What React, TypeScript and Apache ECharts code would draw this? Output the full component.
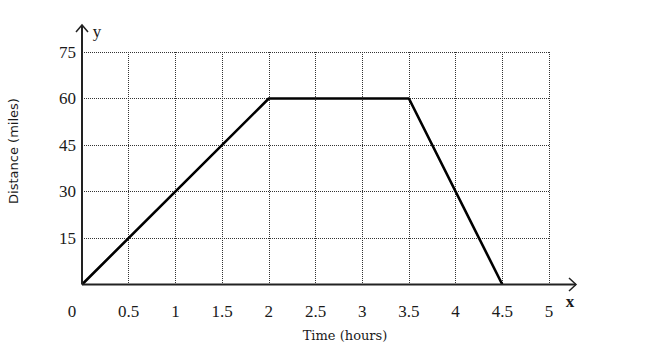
import React, { useEffect, useRef } from "react";
import * as echarts from "echarts";

const timeHours = [0, 2, 3.5, 4.5];
const distanceMiles = [0, 60, 60, 0];
const xTicks = [0, 0.5, 1, 1.5, 2, 2.5, 3, 3.5, 4, 4.5, 5];
const yTicks = [0, 15, 30, 45, 60, 75];

export default function App() {
  const ref = useRef<HTMLDivElement>(null);
  useEffect(() => {
    if (!ref.current) return;
    const chart = echarts.init(ref.current, null, { renderer: "svg" });
    const serif = "'Liberation Serif', serif";
    const option: any = {
      animation: false,
      backgroundColor: "#ffffff",
      grid: { left: 82, right: 101, top: 52, bottom: 68.5 },
      xAxis: {
        type: "value",
        min: xTicks[0],
        max: xTicks[xTicks.length - 1],
        interval: 0.5,
        axisLine: { show: false },
        axisTick: { show: false },
        axisLabel: {
          margin: 18,
          color: "#1a1a1a",
          fontFamily: serif,
          fontSize: 17,
          formatter: (v: number) => (v === 0 ? "{z|0}" : String(v)),
          rich: {
            z: { fontFamily: serif, fontSize: 17, color: "#1a1a1a", padding: [0, 20, 0, 0] },
          },
        },
        splitLine: {
          show: true,
          lineStyle: { color: "#333", width: 1, type: [1, 1] },
        },
      },
      yAxis: {
        type: "value",
        min: yTicks[0],
        max: yTicks[yTicks.length - 1],
        interval: 15,
        axisLine: { show: false },
        axisTick: { show: false },
        axisLabel: {
          margin: 6,
          color: "#1a1a1a",
          fontFamily: serif,
          fontSize: 17,
          padding: [7, 0, 0, 0],
          formatter: (v: number) => (v === 0 ? "" : String(v)),
        },
        splitLine: {
          show: true,
          lineStyle: { color: "#333", width: 1, type: [1, 1] },
        },
      },
      series: [
        {
          type: "line",
          data: timeHours.map((t, i) => [t, distanceMiles[i]]),
          showSymbol: false,
          symbol: "none",
          lineStyle: { color: "#000", width: 2.6 },
          z: 5,
        },
      ],
    };
    chart.setOption(option);
    const o = chart.convertToPixel({ gridIndex: 0 }, [0, 0]) as number[];
    const axisColor = "#222";
    chart.setOption({
      graphic: [
        { type: "line", z: 10, shape: { x1: o[0], y1: o[1], x2: 576, y2: o[1] }, style: { stroke: axisColor, lineWidth: 2 } },
        { type: "polyline", z: 10, shape: { points: [[569, 278], [576, o[1]], [569, 291]] }, style: { stroke: axisColor, lineWidth: 1.5, fill: null } },
        { type: "line", z: 10, shape: { x1: o[0], y1: o[1], x2: o[0], y2: 25 }, style: { stroke: axisColor, lineWidth: 2 } },
        { type: "polyline", z: 10, shape: { points: [[o[0] - 6, 32], [o[0], 25], [o[0] + 6, 32]] }, style: { stroke: axisColor, lineWidth: 1.5, fill: null } },
        { type: "text", z: 10, x: 97, y: 31, style: { text: "y", font: `17px ${serif}`, fill: "#1a1a1a", align: "center", verticalAlign: "middle" } },
        { type: "text", z: 10, x: 570, y: 301, style: { text: "x", font: `bold 17px ${serif}`, fill: "#1a1a1a", align: "center", verticalAlign: "middle" } },
        { type: "text", z: 10, x: 345, y: 335, style: { text: "Time (hours)", font: `13px 'DejaVu Serif'`, fill: "#1a1a1a", align: "center", verticalAlign: "middle" } },
        { type: "text", z: 10, x: 13, y: 151, rotation: Math.PI / 2, style: { text: "Distance (miles)", font: `13px 'DejaVu Sans'`, fill: "#1a1a1a", align: "center", verticalAlign: "middle" } },
      ],
    });
    return () => chart.dispose();
  }, []);
  return <div ref={ref} style={{ position: "fixed", left: 0, top: 0, width: 650, height: 353 }} />;
}
